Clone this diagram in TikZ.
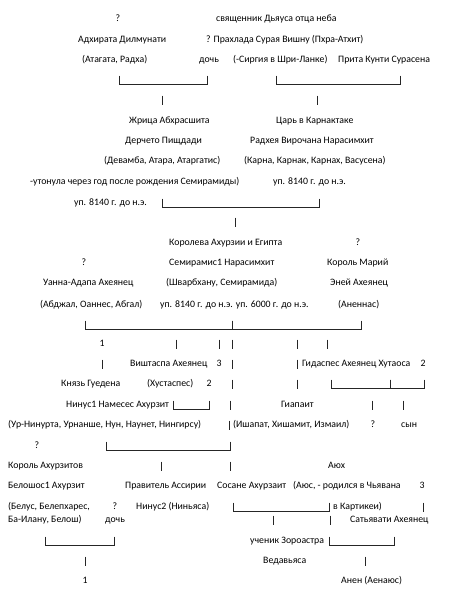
\documentclass[tikz,border=0pt]{standalone}
\usepackage{fontspec}
\setmainfont{Carlito}
\tikzset{
  person/.style={anchor=west, inner sep=0pt, text height=7pt, text depth=2pt,
                 font=\fontsize{9.8}{12}\selectfont},
  sym/.style={person, anchor=center},
  pipe/.style={line width=0.6pt, black!85},
}
% one "|" of the chart, and a "|____|" fork
\newcommand{\gstem}[2]{\draw[pipe] (#1,#2-4.5) -- (#1,#2+5);}
\newcommand{\gbranch}[3]{\gstem{#1}{#3}\gstem{#2}{#3}\draw[pipe] (#1,#3+4.6) -- (#2,#3+4.6);}

\begin{document}
\begin{tikzpicture}[x=1pt, y=-1pt]
  \fill[white] (0,0) rectangle (471,613);
  \useasboundingbox (0,0) rectangle (471,613);

  % generation of Dyaus
  \node[sym] (q1) at (118,19) {?};
  \node[person] (dyaus) at (216,19) {священник Дьяуса отца неба};
  \node[person] (adhirata) at (78,40) {Адхирата Дилмунати};
  \node[person] (prahlada) at (206,40) {? Прахлада Сурая Вишну (Пхра-Атхит)};
  \node[person] (atagata) at (82,60) {(Атагата, Радха)};
  \node[person] (doch1) at (199,60) {дочь};
  \node[person] (sirgiya) at (233,60) {(-Сиргия в Шри-Ланке)};
  \node[person] (prita) at (338,60) {Прита Кунти Сурасена};
  \gbranch{119}{207}{80}
  \gbranch{276}{400}{80}
  \gstem{162}{100}
  \gstem{317}{100}

  % Derketo and Radheya
  \node[person] (zhrica) at (129,121) {Жрица Абхрасшита};
  \node[person] (car) at (276,121) {Царь в Карнактаке};
  \node[person] (derketo) at (125,141) {Дерчето Пищдади};
  \node[person] (radheya) at (250,141) {Радхея Вирочана Нарасимхит};
  \node[person] (devamba) at (104,161) {(Девамба, Атара, Атаргатис)};
  \node[person] (karna) at (244,161) {(Карна, Карнак, Карнах, Васусена)};
  \node[person] (utonula) at (30,182) {-утонула через год после рождения Семирамиды)};
  \node[person] (up1) at (273,182) {уп. 8140 г. до н.э.};
  \node[person] (up2) at (74,203) {уп. 8140 г. до н.э.};
  \gbranch{162}{319}{203}
  \gstem{235}{222}

  % Semiramis
  \node[person] (koroleva) at (169,243) {Королева Ахурзии и Египта};
  \node[sym] (q2) at (358,243) {?};
  \node[sym] (q3) at (84,263) {?};
  \node[person] (semiramis) at (169,263) {Семирамис1 Нарасимхит};
  \node[person] (mariy) at (327,263) {Король Марий};
  \node[person] (uanna) at (43,283) {Уанна-Адапа Ахеянец};
  \node[person] (svarbhanu) at (166,283) {(Шварбхану, Семирамида)};
  \node[person] (eney) at (330,283) {Эней Ахеянец};
  \node[person] (abdzhal) at (40,305) {(Абджал, Оаннес, Абгал)};
  \node[person] (up3) at (160,305) {уп. 8140 г. до н.э. уп. 6000 г. до н.э.};
  \node[person] (anennas) at (338,305) {(Аненнас)};
  \gbranch{85}{232}{325}
  \gbranch{232}{361}{325}

  % children
  \node[sym] (n1) at (102,344) {1};
  \gstem{176}{344}
  \gstem{219}{344}
  \gstem{232}{344}
  \gstem{297}{344}
  \gstem{327}{344}
  \gstem{102}{364}
  \node[person] (vishtaspa) at (130,364) {Виштаспа Ахеянец};
  \node[sym] (n3) at (219,364) {3};
  \gstem{232}{364}
  \gstem{297}{364}
  \node[person] (gidaspes) at (302,364) {Гидаспес Ахеянец Хутаоса};
  \node[sym] (n2) at (423,364) {2};
  \node[person] (knyaz) at (61,384) {Князь Гуедена};
  \node[person] (hustaspes) at (147,384) {(Хустаспес)};
  \node[sym] (n2b) at (209,384) {2};
  \gstem{232}{384}
  \gstem{297}{384}
  \gbranch{331}{390}{384}
  \gbranch{390}{424}{384}

  \node[person] (ninus1) at (66,405) {Нинус1 Намесес Ахурзит};
  \gbranch{173}{209}{405}
  \gstem{230}{405}
  \node[person] (giapait) at (281,405) {Гиапаит};
  \gstem{372}{405}
  \gstem{403}{405}
  \node[person] (urninurta) at (8,425) {(Ур-Нинурта, Урнанше, Нун, Наунет, Нингирсу)};
  \gstem{229}{425}
  \node[person] (ishapat) at (233,425) {(Ишапат, Хишамит, Измаил)};
  \node[sym] (q4) at (373,425) {?};
  \node[person] (syn) at (401,425) {сын};
  \node[sym] (q5) at (37,446) {?};
  \gbranch{106}{230}{446}

  % Ahurzits and Ayuh
  \node[person] (korol) at (8,466) {Король Ахурзитов};
  \gstem{161}{466}
  \gstem{230}{466}
  \node[person] (ayuh) at (328,466) {Аюх};
  \node[person] (beloshos) at (8,486) {Белошос1 Ахурзит};
  \node[person] (pravitel) at (125,486) {Правитель Ассирии};
  \node[person] (sosane) at (217,486) {Сосане Ахурзаит};
  \node[person] (ayus) at (293,486) {(Аюс, - родился в Чьявана};
  \node[sym] (n3b) at (422,486) {3};
  \node[person] (belus) at (8,507) {(Белус, Белепхарес,};
  \node[sym] (q6) at (115,507) {?};
  \node[person] (ninus2) at (136,507) {Нинус2 (Ниньяса)};
  \gbranch{233}{329}{507}
  \node[person] (kartikei) at (333,507) {в Картикеи)};
  \gstem{423}{507}
  \node[person] (bailanu) at (8,520) {Ба-Илану, Белош)};
  \node[person] (doch2) at (105,520) {дочь};
  \gstem{273}{520}
  \gstem{330}{520}
  \node[person] (satyavati) at (350,520) {Сатьявати Ахеянец};

  % last generation
  \gbranch{45}{114}{541}
  \node[person] (uchenik) at (250,541) {ученик Зороастра};
  \gbranch{329}{394}{541}
  \gstem{85}{561}
  \node[person] (vedavyasa) at (263,561) {Ведавьяса};
  \gstem{365}{561}
  \node[sym] (n1b) at (85,581) {1};
  \node[person] (anen) at (341,581) {Анен (Аенаюс)};
\end{tikzpicture}
\end{document}
